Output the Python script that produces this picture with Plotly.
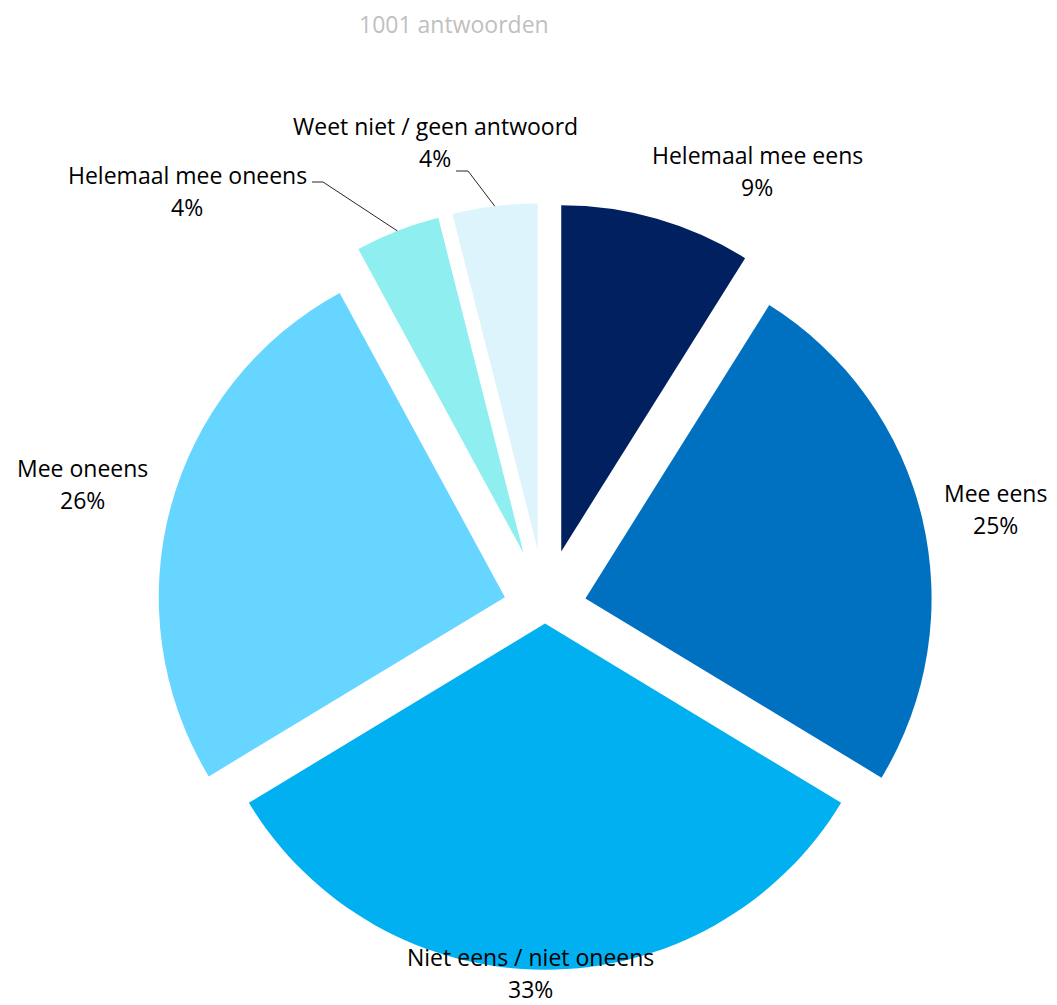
import math
import plotly.graph_objects as go

# ---- data ----
categories = ["Helemaal mee eens", "Mee eens", "Niet eens / niet oneens",
              "Mee oneens", "Helemaal mee oneens", "Weet niet / geen antwoord"]
values = [9, 25, 33, 26, 4, 4]
title_text = "1001 antwoorden"

# ---- styles / layout ----
colors = ["#002060", "#0070C0", "#00B0F0", "#66D5FF", "#8FEFF0", "#DDF4FC"]
pulls = [0.17, 0.12, 0.045, 0.12, 0.17, 0.17]
W, H = 1057, 1005
OFF = 8  # page body margin offset of the rendered figure
ML, MR, MT, MB = 87, 70, 195, 0
PW, PH = W - ML - MR, H - MT - MB
FONT = "Open Sans"
FS = 23

# label centres (screen pixels, layout positions)
label_pos = [(757, 171), (995, 509), (530, 973), (82, 484), (187, 191), (435, 142)]
# leader line start + elbow (screen pixels)
leaders = {4: [(312, 182), (323, 182)], 5: [(456, 171), (468, 171)]}

fig = go.Figure(go.Pie(
    labels=categories, values=values, sort=False, direction="clockwise",
    rotation=0, pull=pulls, marker=dict(colors=colors, line=dict(width=0)),
    textinfo="none", hoverinfo="label+percent", showlegend=False,
    domain=dict(x=[0, 1], y=[0, 1]),
))

def fig2paper(x, y):
    return (x - ML) / PW, (H - MB - y) / PH

def scr2paper(x, y):
    return fig2paper(x - OFF, y - OFF)

# pie geometry as plotly computes it (figure pixels)
maxpull = max(pulls)
R = min(PW, PH) / (2 + 2 * maxpull)
cx, cy = ML + PW / 2, MT + PH / 2
total = sum(values)

annotations = []
shapes = []
cum = 0
for i, (cat, v) in enumerate(zip(categories, values)):
    mid = (cum + v / 2) / total * 2 * math.pi
    cum += v
    pct = round(v / total * 100)
    lx, ly = label_pos[i]
    for j, t in enumerate([cat, f"{pct}%"]):
        px, py = scr2paper(lx, ly - 16 + j * 32)
        annotations.append(dict(x=px, y=py, xref="paper", yref="paper", text=t,
                                showarrow=False, xanchor="center", yanchor="middle",
                                font=dict(family=FONT, size=FS, color="#000000")))
    if i in leaders:
        d = R * (1 + pulls[i])
        ex, ey = cx + d * math.sin(mid), cy - d * math.cos(mid)
        pts = [scr2paper(*p) for p in leaders[i]] + [fig2paper(ex, ey)]
        path = "M " + " L ".join(f"{x},{y}" for x, y in pts)
        shapes.append(dict(type="path", path=path, xref="paper", yref="paper",
                           line=dict(color="#262626", width=1)))

tx, ty = scr2paper(454, 24)
annotations.append(dict(x=tx, y=ty, xref="paper", yref="paper", text=title_text,
                        showarrow=False, xanchor="center", yanchor="middle",
                        font=dict(family=FONT, size=FS, color="#BFBFBF")))

fig.update_layout(
    width=W, height=H, margin=dict(l=ML, r=MR, t=MT, b=MB),
    paper_bgcolor="white", plot_bgcolor="white",
    annotations=annotations, shapes=shapes,
)
fig.write_html("out.html")
